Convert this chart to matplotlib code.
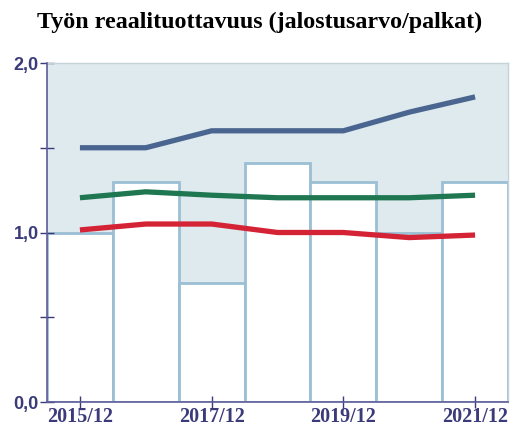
import numpy as np
import matplotlib
matplotlib.use("Agg")
import matplotlib.pyplot as plt

# data
years = ["2015/12", "2016/12", "2017/12", "2018/12", "2019/12", "2020/12", "2021/12"]
bars = [1.0, 1.3, 0.7, 1.41, 1.3, 1.0, 1.3]
blue = [1.5, 1.5, 1.6, 1.6, 1.6, 1.71, 1.8]
green = [1.205, 1.24, 1.22, 1.205, 1.205, 1.205, 1.22]
red = [1.015, 1.05, 1.05, 1.0, 1.0, 0.97, 0.985]
shown_years = ["2015/12", "2017/12", "2019/12", "2021/12"]

navy = "#3b3b7a"
x = np.arange(len(years))

fig = plt.figure(figsize=(5.19, 4.28), dpi=100)
ax = fig.add_axes([47/519, 26/428, 461/519, 339/428])

ax.axhspan(0, 2.0, color="#deeaee", zorder=0)
ax.bar(x, bars, width=1.0, color="white", edgecolor="#9bbfd4", linewidth=2, zorder=1)

ax.plot(x, blue, color="#4a6690", lw=3.8, zorder=3, solid_capstyle="butt")
ax.plot(x, green, color="#1f7752", lw=3.8, zorder=3, solid_capstyle="butt")
ax.plot(x, red, color="#d42335", lw=3.8, zorder=3, solid_capstyle="butt")

ax.set_xlim(-0.5, len(years) - 0.5)
ax.set_ylim(0, 2.0)

for s in ["top", "right"]:
    ax.spines[s].set_color("#c5d2d8")
    ax.spines[s].set_linewidth(1)
for s in ["left", "bottom"]:
    ax.spines[s].set_color("#5c5c98")
    ax.spines[s].set_linewidth(1.2)
    ax.spines[s].set_zorder(4)

ax.set_yticks([0, 0.5, 1.0, 1.5, 2.0])
ax.set_yticklabels(["0,0", "", "1,0", "", "2,0"], fontfamily="Liberation Sans",
                   fontweight="bold", fontsize=13, color=navy)
ax.tick_params(axis="y", direction="inout", length=10, width=1, color=navy, pad=1)

idx = [years.index(y) for y in shown_years]
ax.set_xticks(x[idx])
ax.set_xticklabels(shown_years, fontfamily="Liberation Serif",
                   fontweight="bold", fontsize=14.5, color=navy)
ax.tick_params(axis="x", direction="inout", length=9, width=1, color=navy, pad=-1)

fig.text(0.5, 0.948, "Työn reaalituottavuus (jalostusarvo/palkat)", ha="center", va="center",
         fontfamily="Liberation Serif", fontweight="bold", fontsize=17.3)

fig.savefig("out.png", dpi=100)
